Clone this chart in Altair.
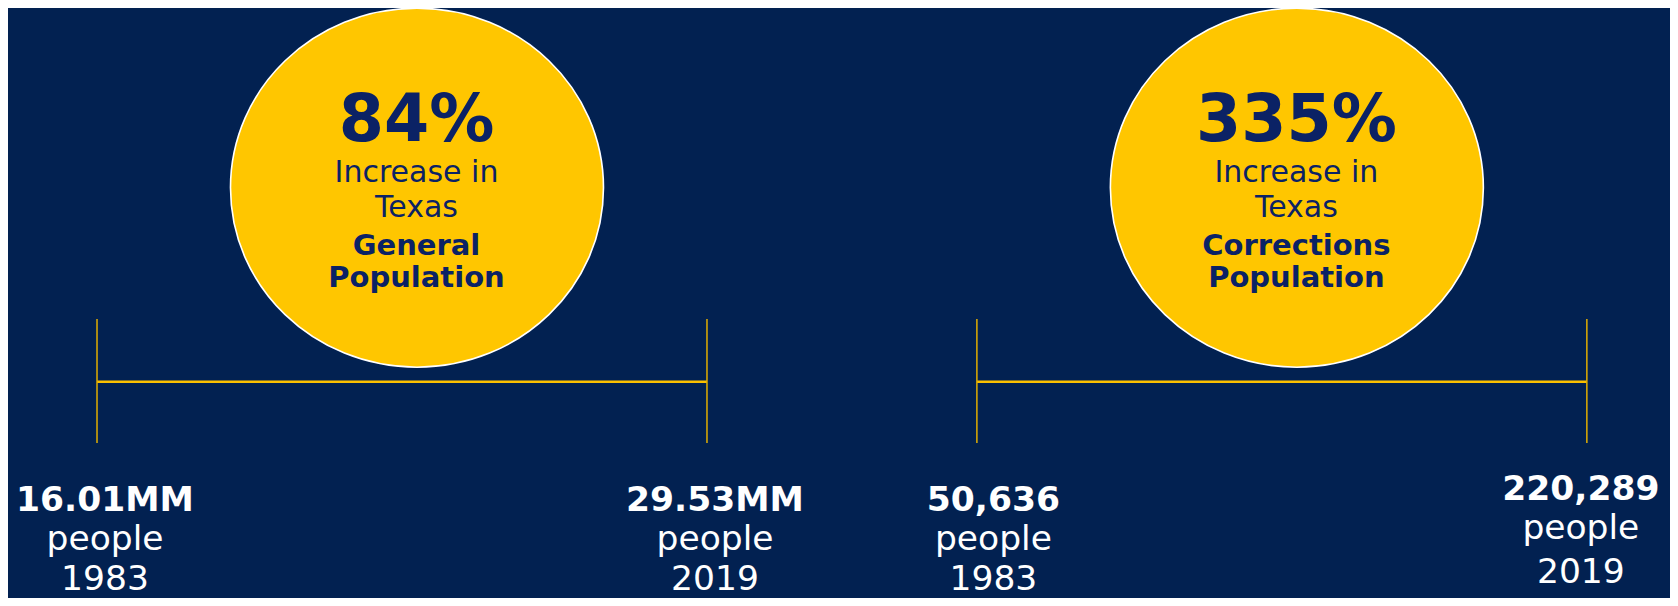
import altair as alt
import pandas as pd

# ---------------- data ----------------
panel_ids = [0, 1]
pct_increase = ["84%", "335%"]
caption_line1 = ["Increase in", "Increase in"]
caption_line2 = ["Texas", "Texas"]
subject_line1 = ["General", "Corrections"]
subject_line2 = ["Population", "Population"]
years = [1983, 2019]
start_counts = ["16.01MM", "50,636"]
end_counts = ["29.53MM", "220,289"]
unit_label = "people"

ticks = pd.DataFrame({
    "panel": [p for p in panel_ids for _ in years],
    "year": [y for _ in panel_ids for y in years],
    "count": [c for p in panel_ids for c in (start_counts[p], end_counts[p])],
})
ticks["unit"] = unit_label
ticks["year_label"] = ticks["year"].astype(str)

circles = pd.DataFrame({
    "panel": panel_ids,
    "start": [years[0]] * 2,
    "end": [years[1]] * 2,
    "pct": pct_increase,
    "cap1": caption_line1,
    "cap2": caption_line2,
    "sub1": subject_line1,
    "sub2": subject_line2,
})

# ---------------- layout / style ----------------
W, H = 1662, 590
SHIFT = 51.93                      # years between the two timelines on the shared scale
XDOM = [1977.747, 1977.747 + 98.09]
BG = "#022151"
YELLOW = "#FFC600"
LINE = "#FBC000"
TICK = "#E2AE00"
NAVY = "#0B2265"
FONT = "DejaVu Sans"

k = 0.5523
b = 179.5 / 186.5
kb = k * b
ELLIPSE = (f"M1,0 C1,{kb:.4f} {k},{b:.4f} 0,{b:.4f} "
           f"C-{k},{b:.4f} -1,{kb:.4f} -1,0 "
           f"C-1,-{kb:.4f} -{k},-{b:.4f} 0,-{b:.4f} "
           f"C{k},-{b:.4f} 1,-{kb:.4f} 1,0 Z")

xs = alt.Scale(domain=XDOM, nice=False, zero=False)


def X(field):
    return alt.X(f"{field}:Q", scale=xs, axis=None)


circ = alt.Chart(circles).transform_calculate(
    mid="(datum.start + datum.end) / 2 + datum.panel * %f" % SHIFT,
    xs="datum.start + datum.panel * %f" % SHIFT,
    xe="datum.end + datum.panel * %f" % SHIFT,
)
tk = alt.Chart(ticks).transform_calculate(xpos="datum.year + datum.panel * %f" % SHIFT)

layers = []

# timelines
layers.append(circ.mark_rule(color=LINE, strokeWidth=2.6).encode(
    x=X("xs"), x2="xe:Q", y=alt.value(373.7)))
layers.append(tk.mark_rule(color=TICK, strokeWidth=1.5).encode(
    x=X("xpos"), y=alt.value(311), y2=alt.value(435)))

# ellipses
layers.append(circ.mark_point(shape=ELLIPSE, size=(2 * 186.5) ** 2, filled=True,
                              fill=YELLOW, stroke="white", strokeWidth=1.6,
                              opacity=1, fillOpacity=1, xOffset=15).encode(
    x=X("mid"), y=alt.value(179.7)))


def ctext(field, y, size, bold):
    return circ.mark_text(font=FONT, fontSize=size, fontWeight="bold" if bold else "normal",
                          color=NAVY, align="center", baseline="alphabetic", dx=14.5).encode(
        x=X("mid"), y=alt.value(y), text=f"{field}:N")


layers += [
    ctext("pct", 133, 65, True),
    ctext("cap1", 173.7, 30, False),
    ctext("cap2", 209.3, 30, False),
    ctext("sub1", 247, 29, True),
    ctext("sub2", 278.7, 29, True),
]

# bottom labels: (panel, year) -> dx, baselines
label_layout = {
    (0, 1983): (8, 503, 542, 582),
    (0, 2019): (8, 503, 542, 582),
    (1, 1983): (16.5, 503, 542, 582),
    (1, 2019): (-6, 492, 531, 575),
}
for (p, yr), (dx, y1, y2, y3) in label_layout.items():
    base = tk.transform_filter(f"datum.panel == {p} && datum.year == {yr}")
    for field, yy, bold in (("count", y1, True), ("unit", y2, False), ("year_label", y3, False)):
        layers.append(base.mark_text(font=FONT, fontSize=34.5,
                                     fontWeight="bold" if bold else "normal",
                                     color="white", align="center", baseline="alphabetic",
                                     dx=dx).encode(
            x=X("xpos"), y=alt.value(yy), text=f"{field}:N"))

chart = alt.layer(*layers).properties(
    width=W, height=H, padding=0,
    autosize=alt.AutoSizeParams(type="none"),
).configure(background=BG).configure_view(strokeWidth=0)

chart.save("out.html", embed_options={"renderer": "svg", "actions": False})
